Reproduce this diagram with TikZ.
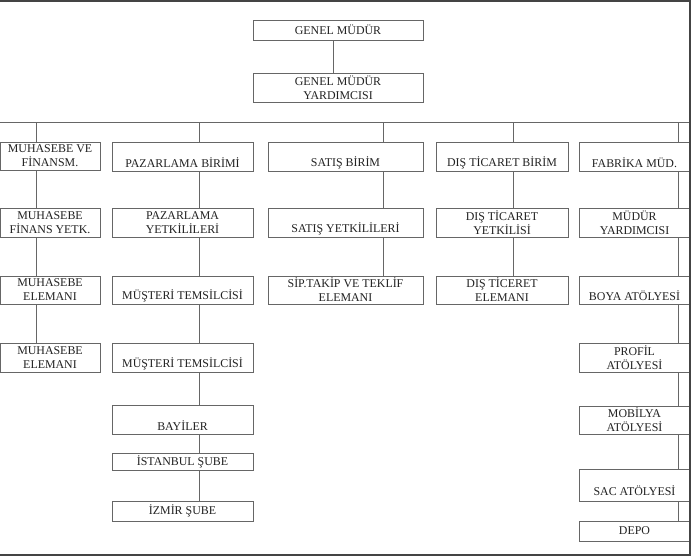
\documentclass[tikz,border=0pt]{standalone}
\usepackage{fontspec}
\setmainfont{Liberation Serif}
\usetikzlibrary{positioning}
\usetikzlibrary{calc}
\newcommand{\unitfont}{\fontsize{11.9}{14}\selectfont}
\newcommand{\lowtext}[1]{\vphantom{M}\\#1}

\begin{document}
\begin{tikzpicture}[x=1pt, y=-1pt]
\definecolor{linecolor}{HTML}{666666}
\definecolor{framecolor}{HTML}{444444}
\definecolor{textcolor}{HTML}{222222}
\tikzstyle{unit}=[rectangle, draw=linecolor, fill=white, text=textcolor, line width=0.8pt, inner sep=0pt, align=center, font=\unitfont]
\tikzstyle{link}=[draw=linecolor, line width=0.8pt]
\tikzstyle{frame}=[draw=framecolor, line width=1.2pt]
\useasboundingbox (0,0) rectangle (693,557);

% top
\node[unit, minimum width=170pt, minimum height=20pt] (Gm) at (338,30) {GENEL MÜDÜR};
\node[unit, minimum width=170pt, minimum height=29pt] (Gmy) at (338,87.5) {GENEL MÜDÜR\\YARDIMCISI};

% muhasebe
\node[unit, minimum width=100pt, minimum height=28pt] (M1) at (50,156) {MUHASEBE VE\\FİNANSM.};
\node[unit, minimum width=100pt, minimum height=29pt] (M2) at (50,222.5) {MUHASEBE\\FİNANS YETK.};
\node[unit, minimum width=100pt, minimum height=28pt] (M3) at (50,290) {MUHASEBE\\ELEMANI};
\node[unit, minimum width=100pt, minimum height=29pt] (M4) at (50,357.5) {MUHASEBE\\ELEMANI};

% pazarlama
\node[unit, minimum width=141pt, minimum height=29pt] (P1) at (182.5,156.5) {\lowtext{PAZARLAMA BİRİMİ}};
\node[unit, minimum width=141pt, minimum height=29pt] (P2) at (182.5,222.5) {PAZARLAMA\\YETKİLİLERİ};
\node[unit, minimum width=141pt, minimum height=28pt] (P3) at (182.5,290) {\lowtext{MÜŞTERİ TEMSİLCİSİ}};
\node[unit, minimum width=141pt, minimum height=29pt] (P4) at (182.5,357.5) {\lowtext{MÜŞTERİ TEMSİLCİSİ}};
\node[unit, minimum width=141pt, minimum height=29pt] (P5) at (182.5,419.5) {\lowtext{BAYİLER}};
\node[unit, minimum width=141pt, minimum height=17pt] (P6) at (182.5,461.5) {İSTANBUL ŞUBE};
\node[unit, minimum width=141pt, minimum height=20pt] (P7) at (182.5,511) {İZMİR ŞUBE};

% satis
\node[unit, minimum width=155pt, minimum height=29pt] (S1) at (345.5,156.5) {\lowtext{SATIŞ BİRİM}};
\node[unit, minimum width=155pt, minimum height=29pt] (S2) at (345.5,222.5) {\lowtext{SATIŞ YETKİLİLERİ}};
\node[unit, minimum width=155pt, minimum height=28pt] (S3) at (345.5,290) {SİP.TAKİP VE TEKLİF\\ELEMANI};

% dis ticaret
\node[unit, minimum width=132pt, minimum height=29pt] (D1) at (502,156.5) {\lowtext{DIŞ TİCARET BİRİM}};
\node[unit, minimum width=132pt, minimum height=29pt] (D2) at (502,222.5) {DIŞ TİCARET\\YETKİLİSİ};
\node[unit, minimum width=132pt, minimum height=28pt] (D3) at (502,290) {DIŞ TİCERET\\ELEMANI};

% fabrika
\node[unit, minimum width=111pt, minimum height=29pt] (F1) at (634.5,156.5) {\lowtext{FABRİKA MÜD.}};
\node[unit, minimum width=111pt, minimum height=29pt] (F2) at (634.5,222.5) {MÜDÜR\\YARDIMCISI};
\node[unit, minimum width=111pt, minimum height=28pt] (F3) at (634.5,290) {\lowtext{BOYA ATÖLYESİ}};
\node[unit, minimum width=111pt, minimum height=29pt] (F4) at (634.5,357.5) {PROFİL\\ATÖLYESİ};
\node[unit, minimum width=111pt, minimum height=28pt] (F5) at (634.5,420) {MOBİLYA\\ATÖLYESİ};
\node[unit, minimum width=111pt, minimum height=32pt] (F6) at (634.5,485) {\lowtext{SAC ATÖLYESİ}};
\node[unit, minimum width=111pt, minimum height=20pt] (F7) at (634.5,531) {DEPO};

% bus and drops
\coordinate (Bl) at (0,122);
\coordinate (Br) at (690,122);
\coordinate (Dm) at (36,122);
\coordinate (Dp) at (199,122);
\coordinate (Ds) at (383,122);
\coordinate (Dd) at (513,122);
\coordinate (Df) at (678,122);
\coordinate (Gx) at (333,0);

\draw[style=link] (Gm.south -| Gx) -- (Gmy.north -| Gx);
\draw[style=link] (Bl) -- (Br);

\draw[style=link] (Dm) -- (Dm |- M1.north);
\draw[style=link] (M1.south -| Dm) -- (M2.north -| Dm);
\draw[style=link] (M2.south -| Dm) -- (M3.north -| Dm);
\draw[style=link] (M3.south -| Dm) -- (M4.north -| Dm);

\draw[style=link] (Dp) -- (Dp |- P1.north);
\draw[style=link] (P1.south -| Dp) -- (P2.north -| Dp);
\draw[style=link] (P2.south -| Dp) -- (P3.north -| Dp);
\draw[style=link] (P3.south -| Dp) -- (P4.north -| Dp);
\draw[style=link] (P4.south -| Dp) -- (P5.north -| Dp);
\draw[style=link] (P5.south -| Dp) -- (P6.north -| Dp);
\draw[style=link] (P6.south -| Dp) -- (P7.north -| Dp);

\draw[style=link] (Ds) -- (Ds |- S1.north);
\draw[style=link] (S1.south -| Ds) -- (S2.north -| Ds);
\draw[style=link] (S2.south -| Ds) -- (S3.north -| Ds);

\draw[style=link] (Dd) -- (Dd |- D1.north);
\draw[style=link] (D1.south -| Dd) -- (D2.north -| Dd);
\draw[style=link] (D2.south -| Dd) -- (D3.north -| Dd);

\draw[style=link] (Df) -- (Df |- F1.north);
\draw[style=link] (F1.south -| Df) -- (F2.north -| Df);
\draw[style=link] (F2.south -| Df) -- (F3.north -| Df);
\draw[style=link] (F3.south -| Df) -- (F4.north -| Df);
\draw[style=link] (F4.south -| Df) -- (F5.north -| Df);
\draw[style=link] (F5.south -| Df) -- (F6.north -| Df);
\draw[style=link] (F6.south -| Df) -- (F7.north -| Df);

% frame
\draw[style=frame] (0,1) -- (690,1) -- (690,555) -- (0,555);

\end{tikzpicture}
\end{document}
